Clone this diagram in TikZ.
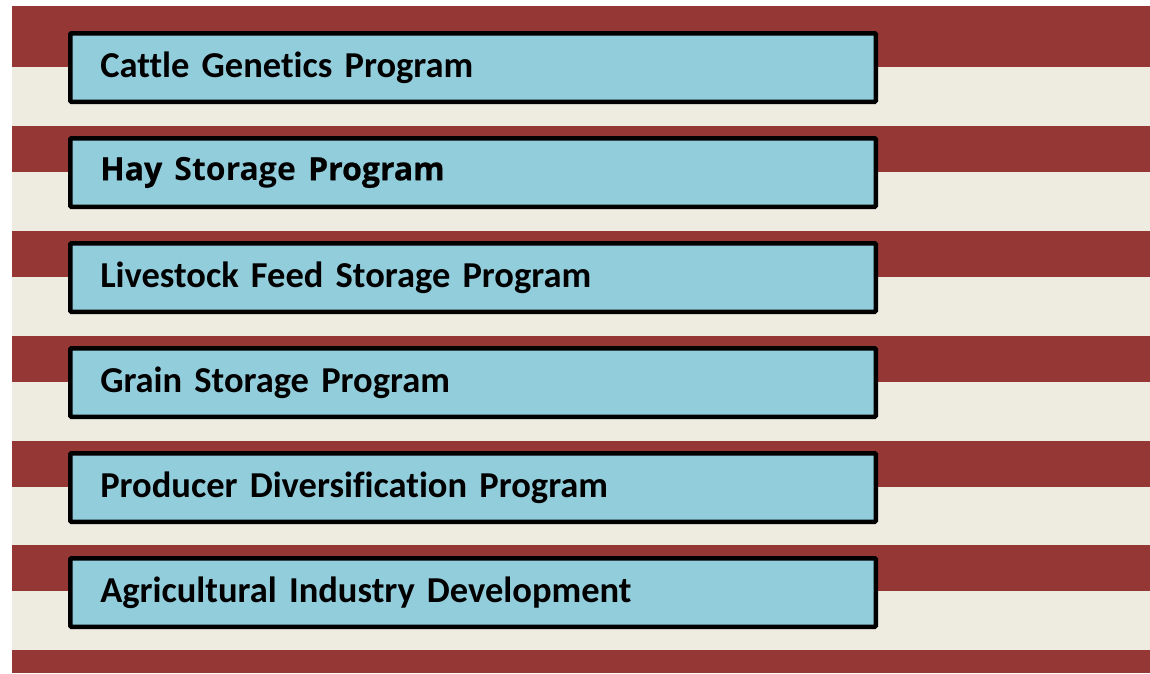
\documentclass[tikz,border=0pt]{standalone}
\usepackage{fontspec}
\setmainfont{Carlito}[Ligatures=NoCommon]
\newfontfamily\hayfont{Open Sans}
\newfontfamily\haymedium[FakeBold=0.7]{Open Sans}
\usetikzlibrary{positioning}
\definecolor{stripered}{HTML}{953735}
\definecolor{stripecream}{HTML}{EEECE1}
\definecolor{boxblue}{HTML}{92CDDC}
\tikzset{programbox/.style={draw=black, line width=4.5pt, fill=boxblue,
	rounded corners=1pt, inner xsep=30pt, inner ysep=0pt,
	text width=745.5pt, minimum height=68.5pt, align=left,
	font=\fontsize{36.5}{42}\selectfont\bfseries}}

\begin{document}
\begin{tikzpicture}[x=1pt,y=-1pt]
\useasboundingbox (0,0) rectangle (1150,673);
% stripes
\fill[stripecream] (12,6) rectangle (1150,673);
\fill[stripered] (12,6) rectangle (1150,67);
\foreach \y in {126,231,336,441,545}
\fill[stripered] (12,\y) rectangle (1150,\y+46);
\fill[stripered] (12,650) rectangle (1150,673);

% programs
\node[programbox] (cattle) at (473,67.5) {Cattle Genetics Program};
\node[programbox, below=32pt of cattle] (hay)
	{\fontsize{32}{40}\selectfont\haymedium Hay \hayfont\bfseries Storage \haymedium Program};
\node[programbox, below=32pt of hay] (livestock) {Livestock Feed Storage Program};
\node[programbox, below=32pt of livestock] (grain) {Grain Storage Program};
\node[programbox, below=32pt of grain] (producer) {Producer Diversification Program};
\node[programbox, below=32pt of producer] (industry) {Agricultural Industry Development};
\end{tikzpicture}
\end{document}
